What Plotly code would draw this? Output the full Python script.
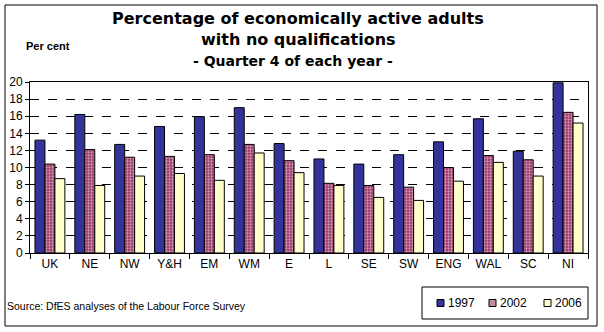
import plotly.graph_objects as go

categories = ["UK", "NE", "NW", "Y&H", "EM", "WM", "E", "L", "SE", "SW", "ENG", "WAL", "SC", "NI"]
y1997 = [13.2, 16.2, 12.7, 14.8, 15.95, 17.0, 12.8, 11.0, 10.4, 11.5, 13.0, 15.7, 11.9, 19.9]
y2002 = [10.4, 12.1, 11.2, 11.3, 11.5, 12.7, 10.8, 8.15, 7.9, 7.7, 10.0, 11.4, 10.9, 16.45]
y2006 = [8.7, 7.9, 9.0, 9.3, 8.5, 11.7, 9.4, 7.9, 6.5, 6.15, 8.4, 10.6, 9.0, 15.2]
series_names = ["1997", "2002", "2006"]
series_colors = ["#333399", "#993366", "#ffffcc"]
legend_swatch = ["#333399", "#c48aa6", "#ffffcc"]
yticks = list(range(0, 21, 2))

FONT = "Liberation Sans, Arial, sans-serif"
TFONT = "DejaVu Sans, sans-serif"
W, H = 604, 332
L, R, T, B = 30, 16, 82, 79
pw, ph = W - L - R, H - T - B

def px_x(x):
    return (x - L) / pw

def px_y(y):
    return (H - B - y) / ph

fig = go.Figure()
fig.add_trace(go.Bar(x=categories, y=y1997, name=series_names[0],
                     marker=dict(color=series_colors[0], line=dict(color="black", width=1))))
fig.add_trace(go.Bar(x=categories, y=y2002, name=series_names[1],
                     marker=dict(color=series_colors[1], line=dict(color="black", width=1),
                                 pattern=dict(shape=".", fgcolor="#ffffff", bgcolor=series_colors[1],
                                              size=3, solidity=0.45))))
fig.add_trace(go.Bar(x=categories, y=y2006, name=series_names[2],
                     marker=dict(color=series_colors[2], line=dict(color="black", width=1))))

fig.update_layout(
    width=W, height=H,
    margin=dict(l=L, r=R, t=T, b=B, autoexpand=False),
    paper_bgcolor="white", plot_bgcolor="white",
    barmode="group", bargap=0.25, bargroupgap=0,
    font=dict(family=FONT, size=12, color="black"),
    showlegend=False,
)
fig.update_xaxes(showline=True, linecolor="black", linewidth=1, mirror=True,
                 ticks="outside", ticklen=5, tickcolor="black", tickson="boundaries",
                 tickangle=0, automargin=False,
                 tickfont=dict(family=FONT, size=12), showgrid=False)
fig.update_yaxes(range=[0, 20], tickvals=yticks, showline=True, linecolor="black", linewidth=1,
                 mirror=True, ticks="outside", ticklen=4, tickcolor="black", automargin=False,
                 showgrid=True, gridcolor="black", griddash="dash", gridwidth=1,
                 zeroline=False, tickfont=dict(family=FONT, size=12))

# Outer chart border
fig.add_shape(type="rect", xref="paper", yref="paper",
              x0=px_x(5), x1=px_x(597), y0=px_y(326), y1=px_y(5),
              line=dict(color="black", width=1), fillcolor="rgba(0,0,0,0)", layer="below")

# Legend box (drawn manually to match the compact Excel-style legend)
fig.add_shape(type="rect", xref="paper", yref="paper",
              x0=px_x(422), x1=px_x(588), y0=px_y(319), y1=px_y(287),
              line=dict(color="black", width=1), fillcolor="white")
leg_x = [437, 489, 544]
for name, col, lx in zip(series_names, legend_swatch, leg_x):
    fig.add_shape(type="rect", xref="paper", yref="paper",
                  x0=px_x(lx), x1=px_x(lx + 7), y0=px_y(306.5), y1=px_y(299.5),
                  line=dict(color="black", width=1), fillcolor=col)
    fig.add_annotation(text=name, xref="paper", yref="paper", x=px_x(lx + 8.5), y=px_y(303),
                       xanchor="left", yanchor="middle", showarrow=False,
                       font=dict(family=FONT, size=12, color="black"))

ann = [
    dict(text="<b>Percentage of economically active adults</b>", x=px_x(298), y=px_y(19), size=16),
    dict(text="<b>with no qualifications</b>", x=px_x(298), y=px_y(40), size=16),
    dict(text="<b>- Quarter 4 of each year -</b>", x=px_x(293), y=px_y(61), size=14),
]
for a in ann:
    fig.add_annotation(text=a["text"], xref="paper", yref="paper", x=a["x"], y=a["y"],
                       xanchor="center", yanchor="middle", showarrow=False,
                       font=dict(family=TFONT, size=a["size"], color="black"))
fig.add_annotation(text="<b>Per cent</b>", xref="paper", yref="paper", x=px_x(24), y=px_y(46),
                   xanchor="left", yanchor="middle", showarrow=False,
                   font=dict(family=FONT, size=11, color="black"))
fig.add_annotation(text="Source: DfES analyses of the Labour Force Survey", xref="paper", yref="paper",
                   x=px_x(5), y=px_y(306), xanchor="left", yanchor="middle", showarrow=False,
                   font=dict(family=FONT, size=10.5, color="black"))

fig.write_html("out.html")
